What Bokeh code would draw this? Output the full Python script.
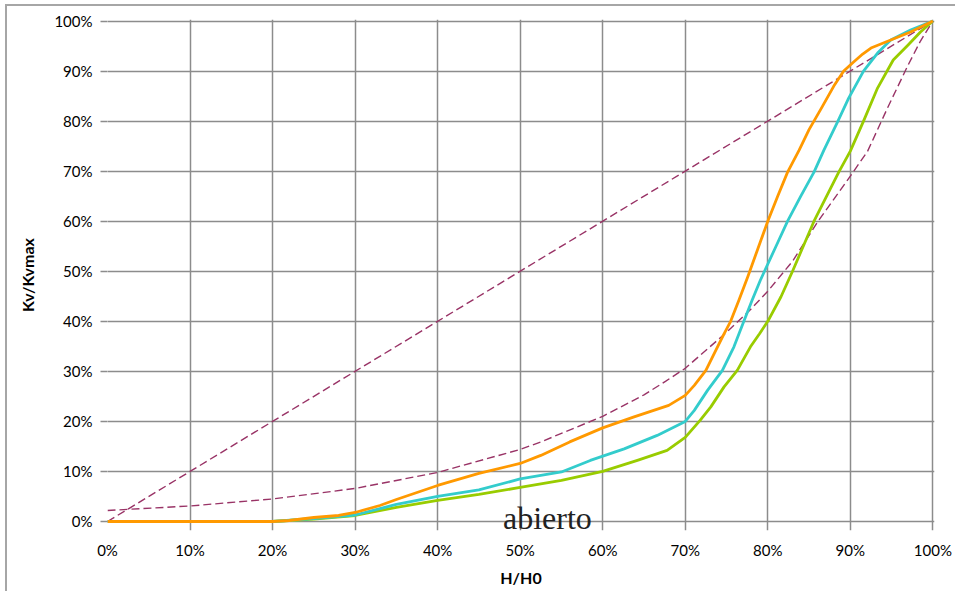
from bokeh.plotting import figure
from bokeh.models import Range1d, FixedTicker, Label
from bokeh.embed import file_html
from bokeh.resources import INLINE

# ---- data (percent) ----
tick_vals = [0, 10, 20, 30, 40, 50, 60, 70, 80, 90, 100]
tick_labels = ["0%", "10%", "20%", "30%", "40%", "50%", "60%", "70%", "80%", "90%", "100%"]

orange_x = [0, 20, 22, 25, 28, 30, 33, 35, 40, 45, 50, 52.5, 56, 60, 63.8, 68, 70, 71.1, 72.5, 73.7, 74.7,
            75.5, 76.5, 77.6, 78.8, 80, 81.2, 82.4, 83.8, 85, 86.5, 88, 89.2, 90.4, 91.5, 92.5, 94.9, 97.3, 100]
orange_y = [0, 0, 0.2, 0.8, 1.2, 1.8, 3.2, 4.4, 7.2, 9.6, 11.6, 13.2, 15.9, 18.7, 20.9, 23.2, 25.2, 27.2, 30.2, 34.2, 37.5,
            40, 44.2, 49, 54.5, 60, 65, 69.8, 74.2, 78.3, 82.6, 87, 90, 91.8, 93.4, 94.6, 96.2, 97.8, 100]

cyan_x = [0, 20, 25, 30, 35, 40, 45, 50, 55, 58.5, 62.6, 66.6, 70, 71.1, 72.7, 74.5, 75.9, 77.1, 78.1, 79.1, 79.6,
          81.0, 82.4, 84.0, 85.6, 86.8, 88.5, 89.8, 91.6, 93.3, 94.9, 97.3, 100]
cyan_y = [0, 0, 0.6, 1.3, 3.4, 5.0, 6.3, 8.5, 9.9, 12.2, 14.5, 17.2, 20.0, 22.2, 26.2, 30.2, 34.9, 40, 44.2, 48.2, 50,
          55, 60, 65, 69.8, 74.2, 80, 84.6, 90, 93.6, 96.2, 98.2, 100]

green_x = [0, 20, 25, 30, 35, 40, 45, 50, 55, 60, 64.2, 67.8, 70, 71.8, 73.1, 74.7, 76.3, 77.9, 79.0, 80, 81.6, 83,
           84.3, 85.6, 88.6, 90, 91.6, 93.3, 95.2, 97, 98.5, 100]
green_y = [0, 0, 0.5, 1.2, 2.8, 4.2, 5.4, 6.8, 8.2, 10, 12.2, 14.2, 16.8, 20.2, 22.9, 26.9, 30.2, 34.9, 37.5, 40, 44.9, 50,
           55, 60, 69.8, 74, 80, 86.6, 92.2, 95.2, 97.8, 100]

linear_x = [0, 100]
linear_y = [0, 100]

eqp_x = [0, 10, 20, 30, 40, 50, 52.5, 60, 65, 67.6, 70, 75, 77.7, 80, 83, 86.1, 90, 92.1, 94.5, 97, 98.5, 100]
eqp_y = [2.2, 3.1, 4.5, 6.6, 9.8, 14.4, 15.9, 21.0, 25.3, 28.0, 30.6, 37.8, 42, 46, 52, 60, 69, 74, 82.6, 91.2, 96, 100]

label_text = "abierto"

GRID = "#8c8c8c"
FONT = "Lato"

# frame extends a little below 0 so the vertical grid lines form the tick marks
# and the "abierto" label is not clipped
p = figure(width=950, height=587, x_range=Range1d(0, 100.2), y_range=Range1d(-1.8, 100.3),
           output_backend="svg", toolbar_location=None,
           min_border_left=100, min_border_right=23, min_border_top=13, min_border_bottom=63)
p.styles = {"margin-left": "5px", "margin-top": "4px",
            "border-left": "2px solid #a6a6a6", "border-top": "2px solid #a6a6a6"}
p.background_fill_color = "white"
p.border_fill_color = "white"
p.outline_line_color = None

for ax in (p.xaxis[0], p.yaxis[0]):
    ax.ticker = FixedTicker(ticks=tick_vals)
    ax.major_label_overrides = {v: l for v, l in zip(tick_vals, tick_labels)}
    ax.axis_line_color = GRID
    ax.axis_line_width = 1.5
    ax.major_tick_line_color = GRID
    ax.major_tick_line_width = 1.5
    ax.major_tick_out = 7
    ax.major_tick_in = 0
    ax.minor_tick_line_color = None
    ax.major_label_text_font = FONT
    ax.major_label_text_font_size = "15px"
    ax.major_label_text_color = "#000000"
    ax.axis_label_text_font = FONT
    ax.axis_label_text_font_size = "16px"
    ax.axis_label_text_font_style = "bold"
    ax.axis_label_text_color = "#000000"

p.xaxis.axis_line_color = None
p.xaxis.major_tick_out = 0
p.yaxis.axis_line_color = None
p.xaxis.axis_label = "H/H0"
p.yaxis.axis_label = "Kv/Kvmax"
p.xaxis.major_label_standoff = 10
p.yaxis.major_label_standoff = 8
p.xaxis.axis_label_standoff = 6
p.yaxis.axis_label_standoff = 14

for g in (p.xgrid[0], p.ygrid[0]):
    g.ticker = FixedTicker(ticks=tick_vals)
    g.grid_line_color = GRID
    g.grid_line_width = 1.5

# reference curves
p.line(linear_x, linear_y, line_color="#993366", line_width=1.4, line_dash="8 4")
p.line(eqp_x, eqp_y, line_color="#993366", line_width=1.4, line_dash="8 4")

# measured curves
p.line(green_x, green_y, line_color="#99CC00", line_width=2.8, line_join="round")
p.line(cyan_x, cyan_y, line_color="#33CCCC", line_width=2.8, line_join="round")
p.line(orange_x, orange_y, line_color="#FF9900", line_width=2.8, line_join="round")

lab = Label(x=53.3, y=0.6, text=label_text, text_font="Liberation Serif",
            text_font_size="32px", text_color="#222222", text_align="center",
            text_baseline="middle", level="overlay")
p.add_layout(lab)

open("out.html", "w").write(file_html(p, INLINE))
